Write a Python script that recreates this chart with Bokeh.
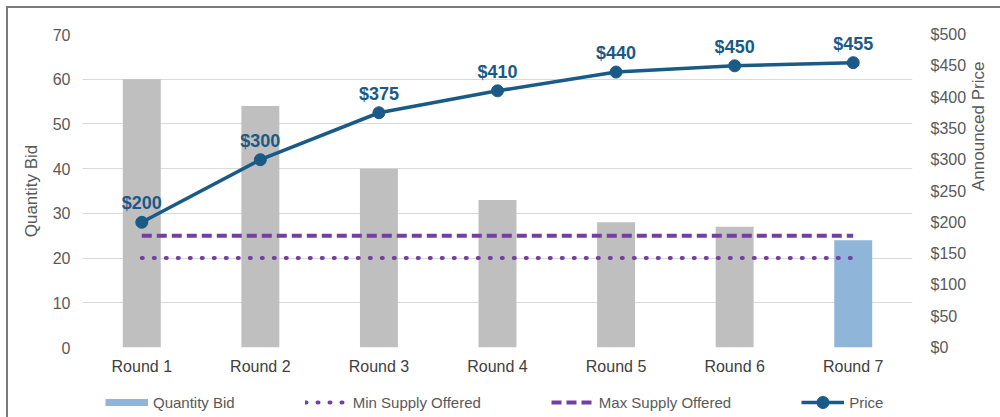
import math
from bokeh.plotting import figure
from bokeh.layouts import column
from bokeh.models import (FactorRange, Range1d, LinearAxis, SingleIntervalTicker, FixedTicker,
                          NumeralTickFormatter, Legend, LegendItem, ColumnDataSource)
from bokeh.core.properties import value
from bokeh.embed import file_html
from bokeh.resources import INLINE

# ---- data ----
rounds = ["Round 1", "Round 2", "Round 3", "Round 4", "Round 5", "Round 6", "Round 7"]
quantity_bid = [60, 54, 40, 33, 28, 27, 24]
price = [200, 300, 375, 410, 440, 450, 455]
min_supply = [20, 20, 20, 20, 20, 20, 20]
max_supply = [25, 25, 25, 25, 25, 25, 25]
price_ticks = [0, 50, 100, 150, 200, 250, 300, 350, 400, 450, 500]
series_names = ["Quantity Bid", "Min Supply Offered", "Max Supply Offered", "Price"]

# ---- styles ----
FONT = "Liberation Sans"
GRAY_BAR = "#BFBFBF"
BLUE_BAR = "#8FB5D8"
PURPLE = "#7440A0"
PRICE_BLUE = "#1A5A87"
TEXT_GRAY = "#595959"
bar_colors = [GRAY_BAR] * 6 + [BLUE_BAR]

price_labels = ["${}".format(v) for v in price]

src = ColumnDataSource(dict(rounds=rounds, qty=quantity_bid, price=price,
                            plabel=price_labels, minsup=min_supply,
                            maxsup=max_supply, color=bar_colors))

p = figure(width=992, height=372, x_range=FactorRange(*rounds), y_range=Range1d(0, 70),
           output_backend="svg", toolbar_location=None,
           min_border_left=74, min_border_right=88, min_border_top=26, min_border_bottom=33)
p.outline_line_color = None
p.background_fill_color = "white"
p.border_fill_color = "white"

p.extra_y_ranges = {"price": Range1d(0, 500)}

# axes
p.yaxis.ticker = SingleIntervalTicker(interval=10)
for ax in [p.yaxis[0], p.xaxis[0]]:
    ax.axis_line_color = None
    ax.major_tick_line_color = None
    ax.minor_tick_line_color = None
    ax.major_label_text_font = FONT
    ax.major_label_text_font_size = "16px"
p.yaxis.major_label_text_color = TEXT_GRAY
p.yaxis.major_label_standoff = 6
p.yaxis.axis_label = "Quantity Bid"
p.yaxis.axis_label_standoff = 9
p.yaxis.axis_label_text_font = FONT
p.yaxis.axis_label_text_font_size = "17px"
p.yaxis.axis_label_text_font_style = "normal"
p.yaxis.axis_label_text_color = TEXT_GRAY
p.xaxis.major_label_text_color = "#404040"
p.xaxis.major_label_standoff = 4

raxis = LinearAxis(y_range_name="price", ticker=FixedTicker(ticks=price_ticks),
                   formatter=NumeralTickFormatter(format="$0"))
raxis.axis_line_color = None
raxis.major_tick_line_color = None
raxis.minor_tick_line_color = None
raxis.major_label_text_font = FONT
raxis.major_label_text_font_size = "16px"
raxis.major_label_text_color = TEXT_GRAY
raxis.major_label_standoff = 12
raxis.axis_label = "Announced Price"
raxis.axis_label_orientation = math.pi / 2
raxis.axis_label_standoff = 9
raxis.axis_label_text_font = FONT
raxis.axis_label_text_font_size = "17px"
raxis.axis_label_text_font_style = "normal"
raxis.axis_label_text_color = TEXT_GRAY
p.add_layout(raxis, "right")

p.xgrid.grid_line_color = None
p.ygrid.grid_line_color = "#D9D9D9"
p.ygrid.grid_line_width = 1

# bars
p.vbar(x="rounds", top="qty", width=0.32, fill_color="color", line_color=None, source=src)

# supply lines
p.line(x="rounds", y="minsup", source=src, line_color=PURPLE, line_width=4,
       line_dash="1 11", line_cap="round")
p.line(x="rounds", y="maxsup", source=src, line_color=PURPLE, line_width=4,
       line_dash="10 5")

# price
p.line(x="rounds", y="price", source=src, y_range_name="price", line_color=PRICE_BLUE,
       line_width=3.5)
p.scatter(x="rounds", y="price", source=src, y_range_name="price", size=12,
          fill_color=PRICE_BLUE, line_color=PRICE_BLUE)
p.text(x="rounds", y="price", text="plabel", source=src, y_range_name="price",
       text_align="center", text_baseline="middle", y_offset=-19,
       text_font=value(FONT), text_font_style="bold", text_font_size="18px",
       text_color=PRICE_BLUE)

# ---- legend strip (separate figure, legend inside its frame) ----
lg = figure(width=992, height=37, x_range=Range1d(0, 1), y_range=Range1d(0, 1),
            output_backend="svg", toolbar_location=None, x_axis_type=None, y_axis_type=None,
            min_border_left=0, min_border_right=0, min_border_top=0, min_border_bottom=0)
lg.outline_line_color = None
lg.grid.grid_line_color = None
nan = float("nan")
r_q = lg.line(x=[nan, nan], y=[nan, nan], line_color=BLUE_BAR, line_width=7)
r_min = lg.line(x=[nan, nan], y=[nan, nan], line_color=PURPLE, line_width=4,
                line_dash="1 11", line_cap="round")
r_max = lg.line(x=[nan, nan], y=[nan, nan], line_color=PURPLE, line_width=4, line_dash="10 5")
r_pl = lg.line(x=[nan, nan], y=[nan, nan], line_color=PRICE_BLUE, line_width=3.5)
r_pm = lg.scatter(x=[nan], y=[nan], size=12, fill_color=PRICE_BLUE, line_color=PRICE_BLUE)

legend = Legend(items=[
    LegendItem(label=series_names[0], renderers=[r_q]),
    LegendItem(label=series_names[1], renderers=[r_min]),
    LegendItem(label=series_names[2], renderers=[r_max]),
    LegendItem(label=series_names[3], renderers=[r_pl, r_pm]),
], orientation="horizontal", location=(23, 0), spacing=70, glyph_width=43,
    glyph_height=30, label_standoff=5, padding=0, margin=0,
    border_line_color=None, background_fill_alpha=0,
    label_text_font=FONT, label_text_font_size="15px", label_text_color=TEXT_GRAY)
lg.add_layout(legend, "center")

layout = column(p, lg, spacing=0,
                styles={"margin-left": "6px", "margin-top": "6px",
                        "border-left": "2px solid #7a7a7a", "border-top": "2px solid #7a7a7a"})

open("out.html", "w").write(file_html(layout, INLINE))
